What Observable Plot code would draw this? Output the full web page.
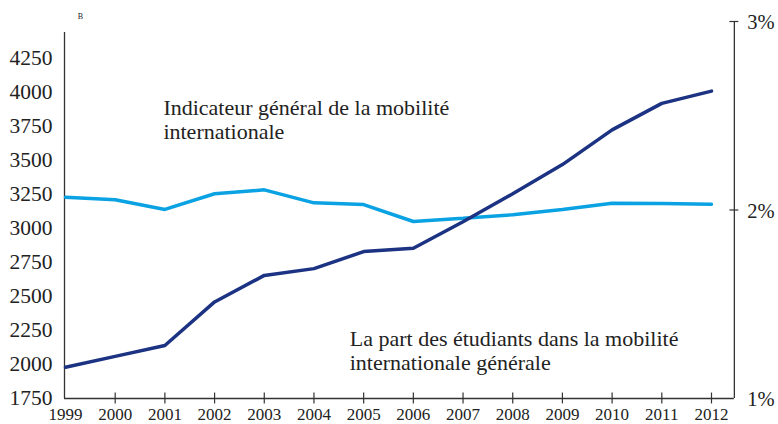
<!DOCTYPE html>
<html>
<head>
<meta charset="utf-8">
<script src="https://cdn.jsdelivr.net/npm/d3@7"></script>
<script src="https://cdn.jsdelivr.net/npm/@observablehq/plot@0.6"></script>
<style>
  html, body { margin: 0; padding: 0; background: #fff; }
  #chart svg { display: block; font-family: "Liberation Serif", "DejaVu Serif", serif !important; }
  #chart svg text { font-family: "Liberation Serif", "DejaVu Serif", serif !important; }
</style>
</head>
<body>
<div id="chart"></div>
<script>
const years = [1999, 2000, 2001, 2002, 2003, 2004, 2005, 2006, 2007, 2008, 2009, 2010, 2011, 2012];
const indicateur = [1980, 2060, 2140, 2460, 2655, 2705, 2830, 2855, 3050, 3255, 3470, 3725, 3920, 4010];
const partEtudiants = [2.068, 2.054, 2.003, 2.086, 2.107, 2.038, 2.029, 1.939, 1.956, 1.975, 2.003, 2.036, 2.034, 2.031];
const leftTicks = [1750, 2000, 2250, 2500, 2750, 3000, 3250, 3500, 3750, 4000, 4250];
const rightTicks = [1, 2, 3];
const rightTickLabels = ["1%", "2%", "3%"];
const labelIndicateur = "Indicateur général de la mobilité\ninternationale";
const labelPart = "La part des étudiants dans la mobilité\ninternationale générale";
const cornerNote = "B";

const yMin = 1750, yMax = 4522;
const pct = p => yMin + (p - 1) * (yMax - yMin) / 2;
const xRight = 2012.46;

const dark = "#1c3282", light = "#0ba2e3", axisColor = "#333";
const serif = "'Liberation Serif', 'DejaVu Serif', serif";

const darkData = years.map((y, i) => ({year: y, v: indicateur[i]}));
const lightData = years.map((y, i) => ({year: y, v: pct(partEtudiants[i])}));
const rtData = rightTicks.map((p, i) => ({v: pct(p), label: rightTickLabels[i], p}));

const chart = Plot.plot({
  width: 778,
  height: 424,
  marginLeft: 65,
  marginRight: 67,
  marginTop: 21,
  marginBottom: 26,
  style: {fontFamily: serif, background: "#fff", overflow: "visible"},
  x: {domain: [1999, 2012], axis: null},
  y: {domain: [yMin, yMax], axis: null},
  marks: [
    // axis lines
    Plot.ruleX([1999], {y1: 1750, y2: 4441, stroke: axisColor, strokeWidth: 1.3, dx: -1}),
    Plot.ruleY([1750], {x1: 1999 - 0.02, x2: xRight, stroke: axisColor, strokeWidth: 1.3}),
    Plot.ruleX([xRight], {y1: yMin, y2: yMax, stroke: axisColor, strokeWidth: 1.3}),
    // x ticks
    Plot.ruleX(years.slice(1), {x: d => d, y1: 1750 - 40, y2: 1750 + 40, stroke: axisColor, strokeWidth: 1.2}),
    // right ticks
    Plot.ruleY(rtData.filter(d => d.p > 1), {y: "v", x1: xRight - 0.09, x2: xRight + 0.09, stroke: axisColor, strokeWidth: 1.2}),
    // labels
    Plot.text(leftTicks, {x: 1999, y: d => d, text: d => String(d), textAnchor: "end", dx: -13, fontSize: 21.5, fontFamily: serif, fill: "#222"}),
    Plot.text(years, {x: d => d, y: 1750, text: d => String(d), dy: 16, fontSize: 17, fontFamily: serif, fill: "#222"}),
    Plot.text(rtData, {x: xRight, y: "v", text: "label", textAnchor: "start", dx: 13, dy: 1, fontSize: 20.5, fontFamily: serif, fill: "#222"}),
    // series
    Plot.line(lightData, {x: "year", y: "v", stroke: light, strokeWidth: 3.5, strokeLinejoin: "miter"}),
    Plot.line(darkData, {x: "year", y: "v", stroke: dark, strokeWidth: 3.5, strokeLinejoin: "miter"}),
    // annotations
    Plot.text([labelIndicateur], {x: 2000.97, y: 3801, text: d => d, textAnchor: "start", lineAnchor: "middle", lineHeight: 1.1, fontSize: 22, fontFamily: serif, fill: "#222"}),
    Plot.text([labelPart], {x: 2004.72, y: 2103, text: d => d, textAnchor: "start", lineAnchor: "middle", lineHeight: 1.1, fontSize: 22, fontFamily: serif, fill: "#222"}),
    Plot.text([cornerNote], {x: 1999.3, y: 4560, text: d => d, fontSize: 8, fontFamily: serif, fill: "#222"})
  ]
});
document.getElementById("chart").appendChild(chart);
</script>
</body>
</html>
